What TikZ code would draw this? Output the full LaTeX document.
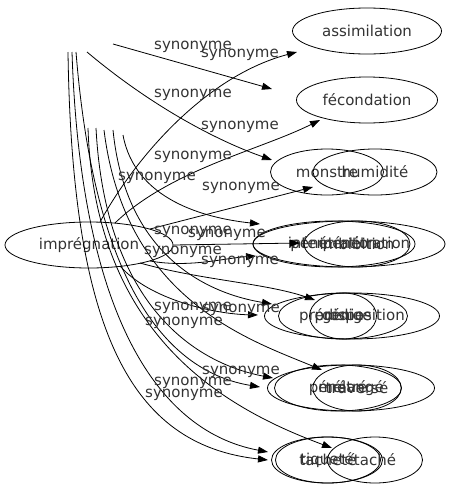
\documentclass[tikz,border=0pt]{standalone}
\usepackage{fontspec}
\setmainfont{DejaVu Sans}
\usetikzlibrary{shapes.geometric,arrows.meta}
\begin{document}
\begin{tikzpicture}[x=1pt,y=-1pt,
  nd/.style={draw,ellipse,inner sep=0pt,minimum height=46pt,line width=0.8pt,text=black!80,font=\fontsize{15}{17}\selectfont},
  lbl/.style={inner sep=0pt,text=black!80,font=\fontsize{15}{17}\selectfont},
  edge/.style={-{Triangle[length=10pt,width=7pt]},line width=0.8pt}]
\useasboundingbox (0,0) rectangle (458,491);
% nodes
\node[nd,minimum width=168pt] (imp) at (89,245) {imprégnation};
\node[nd,minimum width=149pt] (assim) at (367,31) {assimilation};
\node[nd,minimum width=141pt] (fec) at (367,100) {fécondation};
\node[nd,minimum width=113pt] (mon) at (327,172) {monstre};
\node[nd,minimum width=124pt] (hum) at (375,172) {humidité};
\node[nd,minimum width=192pt] (inter) at (349,244) {interpénétration};
\node[nd,minimum width=162pt] (pene) at (334,244) {pénétration};
\node[nd,minimum width=100pt] (imb) at (357,244) {imbibition};
\node[nd,minimum width=175pt] (pred) at (352,316) {prédisposition};
\node[nd,minimum width=129pt] (prod) at (343,316) {prodige};
\node[nd,minimum width=67pt] (gen) at (343,316) {génie};
\node[nd,minimum width=167pt] (mel) at (351,388) {mélangé};
\node[nd,minimum width=127pt] (pen2) at (338,388) {pénétré};
\node[nd,minimum width=83pt] (trav) at (357,388) {traversé};
\node[nd,minimum width=111pt] (tiq) at (327,460) {tiqueté};
\node[nd,minimum width=105pt] (tac) at (328,460) {tacheté};
\node[nd,minimum width=95pt] (tache) at (375,460) {taché};
% free ends
\coordinate (a1) at (113,44);
\coordinate (a2) at (87,52);
\coordinate (a3) at (76,52);
\coordinate (a4) at (72,52);
\coordinate (a5) at (68,52);
\coordinate (b1) at (88,128);
\coordinate (b2) at (96,128);
\coordinate (b3) at (104,130);
\coordinate (b4) at (113,130);
\coordinate (b5) at (123,135);
\coordinate (i3) at (100,222);
\coordinate (i4) at (115,223);
\coordinate (i6) at (150,229);
\coordinate (i10) at (150,261);
\coordinate (i11) at (120,266);
\coordinate (i12) at (140,263);
\coordinate (t1) at (272,89);
\coordinate (t2) at (272,160);
\coordinate (t3) at (297,52);
\coordinate (t4) at (320,120);
\coordinate (t5) at (313,187);
\coordinate (t6) at (260,224);
\coordinate (t7) at (300,243);
\coordinate (t8) at (256,256);
\coordinate (t9) at (272,304);
\coordinate (t10) at (258,315);
\coordinate (t11) at (315,300);
\coordinate (t12) at (322,370);
\coordinate (t13) at (273,378);
\coordinate (t14) at (260,387);
\coordinate (t15) at (332,448);
\coordinate (t16) at (268,452);
\coordinate (t17) at (268,460);
% edges
\draw[edge] (a1) -- (t1);
\draw[edge] (a2) .. controls (150,105) and (215,140) .. (t2);
\draw[edge] (i3) .. controls (140,150) and (210,75) .. (t3);
\draw[edge] (i4) .. controls (170,170) and (260,150) .. (t4);
\draw[edge] (i6) -- (t5);
\draw[edge] (b5) .. controls (135,200) and (205,218) .. (t6);
\draw[edge] (imp.east) -- (t7);
\draw[edge] (i10) .. controls (190,268) and (225,258) .. (t8);
\draw[edge] (b4) .. controls (125,250) and (200,292) .. (t9);
\draw[edge] (i11) .. controls (150,300) and (215,314) .. (t10);
\draw[edge] (i12) .. controls (200,280) and (265,283) .. (t11);
\draw[edge] (b3) .. controls (125,300) and (250,340) .. (t12);
\draw[edge] (b2) .. controls (105,300) and (190,362) .. (t13);
\draw[edge] (a3) .. controls (95,290) and (170,372) .. (t14);
\draw[edge] (b1) .. controls (95,340) and (230,410) .. (t15);
\draw[edge] (a4) .. controls (80,300) and (150,430) .. (t16);
\draw[edge] (a5) .. controls (72,330) and (130,445) .. (t17);
% labels
\node[lbl] (l1) at (193,47) {synonyme};
\node[lbl] (l2) at (240,55) {synonyme};
\node[lbl] (l3) at (193,95) {synonyme};
\node[lbl] (l4) at (240,127) {synonyme};
\node[lbl] (l5) at (193,157) {synonyme};
\node[lbl] (l6) at (157,178) {synonyme};
\node[lbl] (l7) at (241,188) {synonyme};
\node[lbl] (l8) at (193,232) {synonyme};
\node[lbl] (l9) at (227,235) {synonyme};
\node[lbl] (l10) at (183,252) {synonyme};
\node[lbl] (l11) at (240,262) {synonyme};
\node[lbl] (l12) at (193,308) {synonyme};
\node[lbl] (l13) at (241,310) {synonyme};
\node[lbl] (l14) at (184,323) {synonyme};
\node[lbl] (l15) at (241,372) {synonyme};
\node[lbl] (l16) at (193,383) {synonyme};
\node[lbl] (l17) at (184,395) {synonyme};
\end{tikzpicture}
\end{document}
